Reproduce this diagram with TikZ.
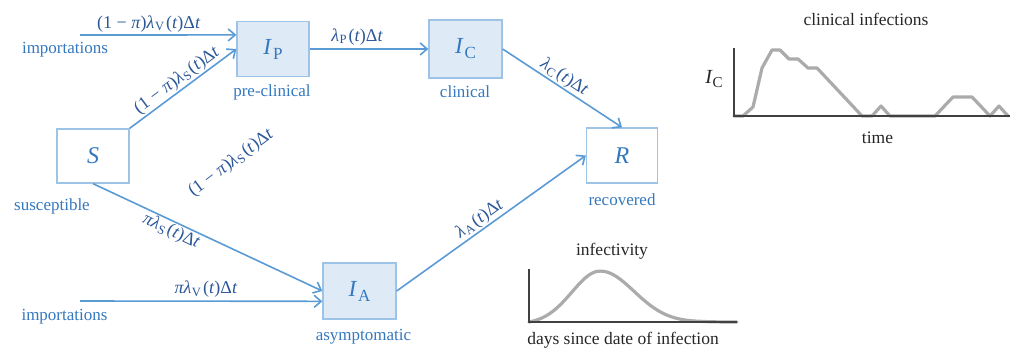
\documentclass[tikz,border=0pt]{standalone}
\usepackage{fontspec}
\setmainfont{Liberation Serif}
\usetikzlibrary{arrows.meta,calc}
\definecolor{lineblue}{HTML}{5B9BD5}
\definecolor{boxborder}{HTML}{9DC3E6}
\definecolor{boxfill}{HTML}{DEEBF7}
\definecolor{nameblue}{RGB}{52,120,190}
\definecolor{labblue}{RGB}{43,87,151}
\definecolor{curvegray}{HTML}{ABABAB}
\definecolor{axisgray}{HTML}{404040}
\newcommand{\subx}[1]{\kern0.5pt\textsubscript{#1}\kern1.5pt}
\newcommand{\boxlab}[2]{{\fontsize{23}{26}\selectfont\textit{#1}}\kern1pt\raisebox{-5pt}{\fontsize{17}{20}\selectfont #2}}
\tikzset{
  compbox/.style={draw=boxborder, line width=1.3pt, fill=boxfill, minimum width=72pt, minimum height=56pt, inner sep=0pt, text=nameblue},
  plainbox/.style={compbox, fill=white},
  flowarrow/.style={draw=lineblue, line width=1.6pt, -{Straight Barb[length=7pt,width=12pt]}},
  compname/.style={text=nameblue, font=\fontsize{17}{20}\selectfont, inner sep=0pt},
  ratelab/.style={text=labblue, font=\fontsize{18}{21}\selectfont, inner sep=1pt},
  plotlab/.style={text=black!85, font=\fontsize{17.5}{20}\selectfont, inner sep=0pt},
  curveline/.style={draw=curvegray, line width=3.2pt, line join=round, line cap=round},
  axisline/.style={draw=axisgray, line width=1.1pt}
}
\begin{document}
\begin{tikzpicture}[x=1pt,y=-1pt]
\useasboundingbox (0,0) rectangle (1011,351);

% compartments
\node[compbox, minimum height=55pt] (IP) at (273,49) {\boxlab{I}{P}};
\node[compbox, minimum width=73pt, minimum height=58pt] (IC) at (465.5,49) {\boxlab{I}{C}};
\node[plainbox, minimum height=54pt] (S) at (93,156) {{\fontsize{24}{28}\selectfont\textit{S}}};
\node[plainbox, minimum width=71pt, minimum height=55pt] (R) at (622,155.5) {{\fontsize{24}{28}\selectfont\textit{R}}};
\node[compbox, minimum width=73pt, minimum height=56pt] (IA) at (359.5,291) {\boxlab{I}{A}};

% names
\node[compname] (nIP) at (272,92) {pre-clinical};
\node[compname] (nIC) at (465,92) {clinical};
\node[compname] (nS) at (52,206) {susceptible};
\node[compname] (nR) at (622,200) {recovered};
\node[compname] (nIA) at (363.5,337) {asymptomatic};
\node[compname] (imp1) at (65,50) {importations};
\node[compname] (imp2) at (64.5,317) {importations};

% free ends of importation arrows
\coordinate (i1) at (80,35);
\coordinate (i2) at (80,301);

% flows
\draw[flowarrow] (i1) -- ($(IP.north west)!0.25!(IP.south west)$)
  node[ratelab, pos=0.44, above=1pt] {(1 − \textit{π})\textit{λ}\subx{V}(\textit{t})Δ\textit{t}};
\draw[flowarrow] (S.north east) -- (IP.west)
  node[ratelab, pos=0.5, above, sloped] {(1 − \textit{π})\textit{λ}\subx{S}(\textit{t})Δ\textit{t}};
\draw[flowarrow] (IP.east) -- (IC.west)
  node[ratelab, pos=0.4, above=2pt] {\textit{λ}\subx{P}(\textit{t})Δ\textit{t}};
\draw[flowarrow] (IC.east) -- (R.north)
  node[ratelab, pos=0.47, above, sloped] {\textit{λ}\subx{C}(\textit{t})Δ\textit{t}};
\draw[flowarrow] (S.south) -- (IA.west)
  node[ratelab, pos=0.36, below, sloped] {\textit{πλ}\subx{S}(\textit{t})Δ\textit{t}};
\draw[flowarrow] (i2) -- ($(IA.north west)!0.68!(IA.south west)$)
  node[ratelab, pos=0.52, above=2pt] {\textit{πλ}\subx{V}(\textit{t})Δ\textit{t}};
\draw[flowarrow] (IA.east) -- (R.west)
  node[ratelab, pos=0.47, above, sloped] {\textit{λ}\subx{A}(\textit{t})Δ\textit{t}};

% floating rate label
\node[ratelab, rotate=37] (free) at (231,163) {(1 − \textit{π})\textit{λ}\subx{S}(\textit{t})Δ\textit{t}};

% clinical infections plot
\node[plotlab] (ctitle) at (866,19) {clinical infections};
\node[plotlab] (ctime) at (877.5,138) {time};
\node[plotlab] (cIC) at (714,79) {{\fontsize{20}{24}\selectfont\textit{I}}\raisebox{-4pt}{\fontsize{15}{18}\selectfont C}};
\draw[curveline] (734,116) -- (743,116) -- (753,107) -- (762,68) -- (772,50) -- (780,50)
  -- (789,59) -- (798,59) -- (808,68) -- (817,68) -- (862,116) -- (872,116)
  -- (881,106) -- (890,116) -- (935,116) -- (953,97) -- (972,97) -- (990,116)
  -- (999,106) -- (1008,116);
\draw[axisline] (734,48) -- (734,116) -- (1010,116);

% infectivity plot
\node[plotlab] (ititle) at (612,251) {infectivity};
\node[plotlab] (idays) at (623,340) {days since date of infection};
\draw[curveline] plot[domain=529:600, samples=40, smooth] (\x, {322 - 53*(exp(-0.5*((\x-600)/28)^2) - 0.04)});
\draw[curveline] plot[domain=600:737, samples=60, smooth] (\x, {322 - 53*(exp(-0.5*((\x-600)/34)^2) - 0.04*max(0,1-(\x-600)/100))});
\draw[axisline] (529,269) -- (529,322) -- (737,322);
\end{tikzpicture}
\end{document}
